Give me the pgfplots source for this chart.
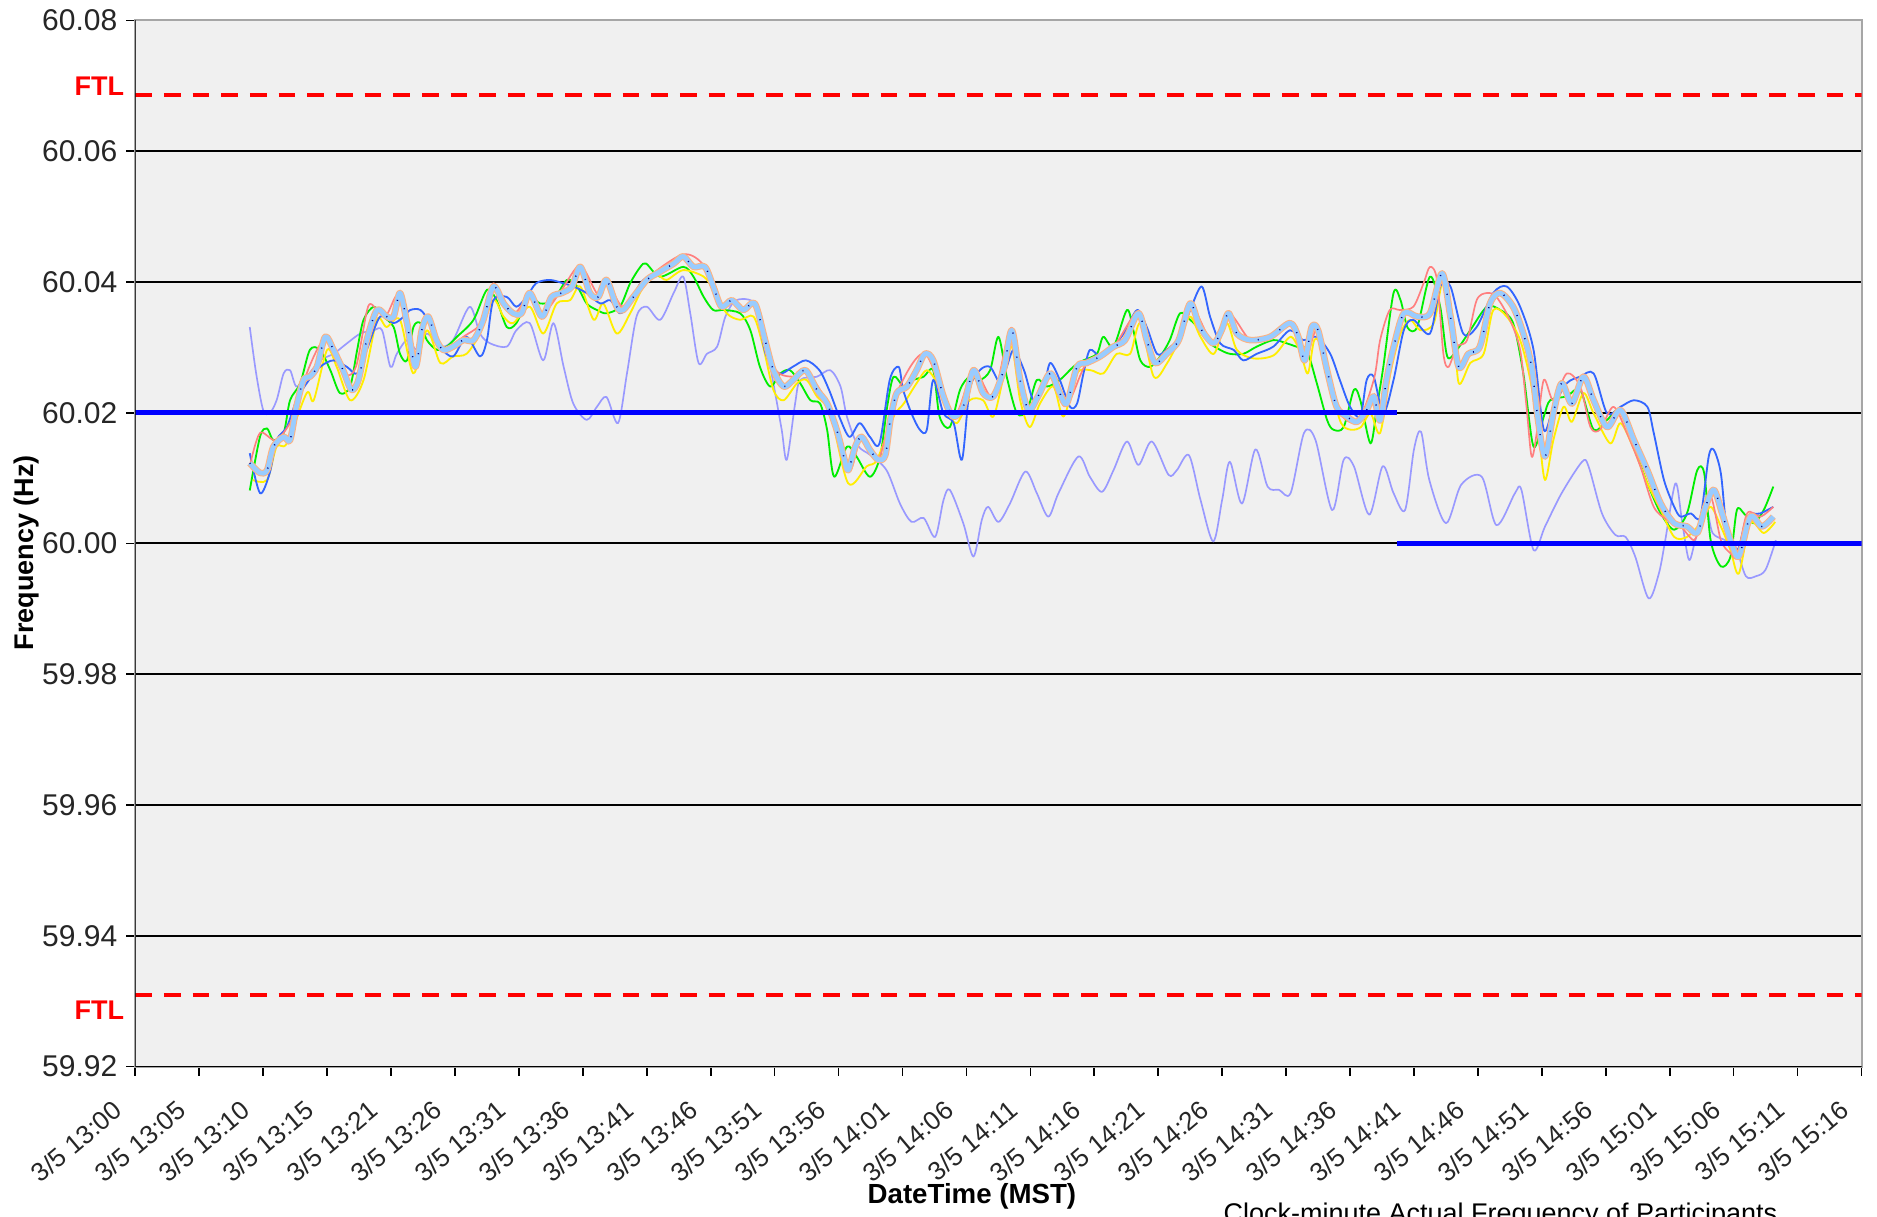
\documentclass[border=0pt]{standalone}
\usepackage{fontspec}
\setmainfont{Liberation Sans}
\usepackage{pgfplots}
\pgfplotsset{compat=1.18}
\usepackage{pgfplotstable}
\usetikzlibrary{calc}

\definecolor{plotbg}{HTML}{F0F0F0}
\definecolor{cLightBlue}{HTML}{99CCFF}
\definecolor{cPeach}{HTML}{FFB27F}
\definecolor{cGreen}{HTML}{00EE00}
\definecolor{cYellow}{HTML}{FFEE00}
\definecolor{cRoyal}{HTML}{3366FF}
\definecolor{cSalmon}{HTML}{FF7F7F}
\definecolor{cLav}{HTML}{9999FF}
\definecolor{cNavy}{HTML}{000080}
\definecolor{cRefBlue}{HTML}{0000FF}
\definecolor{cFTL}{HTML}{FF0000}

% x = position in tick steps (0 = 3/5 13:00, 27 = 3/5 15:16), y = Hz
\pgfplotstableread{
x y
1.79 60.0123
1.95 60.0108
2.06 60.0112
2.16 60.0148
2.32 60.0163
2.42 60.0158
2.52 60.0209
2.63 60.0250
2.73 60.0255
2.84 60.0270
2.97 60.0316
3.10 60.0296
3.25 60.0265
3.38 60.0235
3.49 60.0250
3.62 60.0311
3.78 60.0357
3.93 60.0347
4.04 60.0347
4.14 60.0383
4.25 60.0337
4.38 60.0270
4.48 60.0326
4.58 60.0347
4.71 60.0311
4.82 60.0296
4.97 60.0301
5.13 60.0311
5.29 60.0311
5.44 60.0341
5.60 60.0393
5.76 60.0367
5.91 60.0352
6.04 60.0352
6.17 60.0383
6.36 60.0347
6.51 60.0377
6.67 60.0383
6.83 60.0393
6.96 60.0423
7.11 60.0383
7.24 60.0377
7.37 60.0403
7.53 60.0362
7.63 60.0357
7.79 60.0377
8.00 60.0403
8.16 60.0413
8.42 60.0428
8.57 60.0439
8.73 60.0423
8.91 60.0423
9.04 60.0393
9.17 60.0362
9.33 60.0372
9.51 60.0357
9.69 60.0367
9.85 60.0311
9.98 60.0265
10.14 60.0240
10.29 60.0250
10.48 60.0265
10.66 60.0235
10.82 60.0214
10.97 60.0174
11.08 60.0133
11.15 60.0112
11.26 60.0148
11.36 60.0163
11.49 60.0143
11.62 60.0128
11.73 60.0135
11.81 60.0189
11.91 60.0230
12.07 60.0240
12.22 60.0265
12.35 60.0290
12.48 60.0280
12.64 60.0225
12.79 60.0194
12.95 60.0209
13.11 60.0265
13.26 60.0230
13.42 60.0225
13.58 60.0265
13.71 60.0326
13.84 60.0250
13.97 60.0204
14.12 60.0225
14.31 60.0260
14.46 60.0230
14.57 60.0214
14.73 60.0270
14.88 60.0276
15.09 60.0286
15.30 60.0301
15.48 60.0311
15.69 60.0352
15.82 60.0311
15.95 60.0276
16.13 60.0290
16.32 60.0311
16.50 60.0367
16.65 60.0331
16.86 60.0306
16.99 60.0326
17.10 60.0352
17.23 60.0321
17.44 60.0311
17.75 60.0316
18.06 60.0337
18.19 60.0316
18.29 60.0280
18.40 60.0331
18.50 60.0326
18.64 60.0265
18.79 60.0209
18.95 60.0194
19.11 60.0186
19.26 60.0204
19.37 60.0225
19.47 60.0188
19.57 60.0250
19.68 60.0300
19.84 60.0352
20.05 60.0347
20.25 60.0352
20.44 60.0413
20.57 60.0347
20.70 60.0270
20.85 60.0290
21.03 60.0301
21.19 60.0367
21.35 60.0383
21.55 60.0362
21.71 60.0321
21.84 60.0270
21.94 60.0189
22.05 60.0133
22.18 60.0199
22.31 60.0245
22.47 60.0214
22.65 60.0255
22.81 60.0219
23.02 60.0178
23.23 60.0204
23.44 60.0158
23.65 60.0112
23.86 60.0061
24.07 60.0031
24.27 60.0026
24.43 60.0016
24.56 60.0056
24.69 60.0082
24.82 60.0046
24.95 60.0005
25.08 59.9980
25.26 60.0041
25.44 60.0026
25.62 60.0041
}\mainT

\pgfplotstableread{
x y
1.79 60.0081
1.95 60.0163
2.06 60.0176
2.16 60.0158
2.32 60.0169
2.42 60.0219
2.58 60.0245
2.73 60.0296
2.89 60.0296
3.05 60.0265
3.20 60.0230
3.36 60.0240
3.47 60.0296
3.57 60.0342
3.73 60.0362
3.88 60.0347
4.04 60.0331
4.14 60.0290
4.25 60.0280
4.35 60.0331
4.46 60.0337
4.56 60.0311
4.72 60.0296
4.87 60.0301
5.03 60.0316
5.29 60.0342
5.50 60.0388
5.65 60.0372
5.81 60.0331
5.96 60.0337
6.17 60.0377
6.33 60.0367
6.54 60.0372
6.75 60.0403
6.91 60.0393
7.06 60.0367
7.22 60.0357
7.37 60.0352
7.58 60.0362
7.74 60.0398
7.90 60.0423
7.99 60.0428
8.21 60.0408
8.57 60.0423
8.73 60.0408
8.89 60.0377
9.04 60.0357
9.20 60.0357
9.46 60.0352
9.62 60.0326
9.77 60.0270
9.93 60.0240
10.09 60.0260
10.24 60.0265
10.40 60.0245
10.56 60.0219
10.71 60.0214
10.82 60.0174
10.93 60.0102
11.13 60.0148
11.28 60.0133
11.49 60.0102
11.65 60.0133
11.76 60.0209
11.86 60.0255
12.02 60.0240
12.17 60.0250
12.33 60.0255
12.48 60.0265
12.58 60.0194
12.74 60.0178
12.90 60.0235
13.05 60.0255
13.21 60.0250
13.37 60.0265
13.50 60.0316
13.63 60.0255
13.79 60.0199
13.95 60.0204
14.10 60.0250
14.26 60.0240
14.46 60.0250
14.67 60.0270
14.83 60.0280
15.04 60.0290
15.14 60.0316
15.30 60.0301
15.51 60.0357
15.61 60.0326
15.72 60.0280
15.87 60.0270
16.03 60.0286
16.18 60.0311
16.34 60.0352
16.50 60.0342
16.66 60.0326
16.81 60.0306
16.97 60.0296
17.12 60.0290
17.33 60.0290
17.54 60.0301
17.80 60.0311
18.01 60.0306
18.16 60.0301
18.32 60.0296
18.48 60.0245
18.64 60.0189
18.74 60.0174
18.90 60.0178
19.06 60.0235
19.16 60.0219
19.32 60.0153
19.42 60.0209
19.52 60.0270
19.68 60.0383
19.79 60.0372
19.90 60.0330
20.05 60.0331
20.25 60.0408
20.41 60.0362
20.52 60.0286
20.67 60.0296
20.88 60.0326
21.14 60.0362
21.35 60.0357
21.55 60.0337
21.71 60.0260
21.87 60.0148
22.03 60.0194
22.13 60.0219
22.39 60.0225
22.60 60.0235
22.81 60.0174
23.02 60.0189
23.23 60.0204
23.44 60.0148
23.65 60.0092
23.86 60.0046
24.07 60.0021
24.27 60.0046
24.43 60.0112
24.54 60.0107
24.64 60.0005
24.80 59.9965
24.95 59.9980
25.05 60.0051
25.16 60.0046
25.31 60.0031
25.47 60.0051
25.62 60.0087
}\greenT

\pgfplotstableread{
x y
1.84 60.0097
2.06 60.0097
2.21 60.0148
2.37 60.0153
2.68 60.0230
2.79 60.0219
3.00 60.0296
3.15 60.0270
3.36 60.0219
3.57 60.0250
3.78 60.0342
3.93 60.0331
4.14 60.0342
4.35 60.0260
4.56 60.0326
4.77 60.0276
4.97 60.0286
5.18 60.0290
5.39 60.0321
5.60 60.0372
5.76 60.0347
5.91 60.0337
6.17 60.0362
6.38 60.0321
6.59 60.0367
6.80 60.0372
6.96 60.0393
7.17 60.0342
7.32 60.0367
7.53 60.0321
7.74 60.0352
7.95 60.0393
8.16 60.0410
8.31 60.0403
8.57 60.0418
8.89 60.0408
9.04 60.0388
9.25 60.0352
9.46 60.0342
9.67 60.0347
9.82 60.0301
9.98 60.0235
10.14 60.0219
10.35 60.0245
10.50 60.0250
10.66 60.0225
10.87 60.0199
11.15 60.0092
11.44 60.0118
11.60 60.0128
11.86 60.0194
12.02 60.0214
12.22 60.0245
12.38 60.0265
12.54 60.0245
12.69 60.0204
12.85 60.0184
13.05 60.0219
13.26 60.0219
13.42 60.0194
13.58 60.0255
13.71 60.0301
13.84 60.0219
13.99 60.0178
14.15 60.0214
14.36 60.0240
14.52 60.0194
14.73 60.0260
14.94 60.0265
15.14 60.0260
15.35 60.0290
15.56 60.0290
15.72 60.0337
15.93 60.0255
16.14 60.0276
16.35 60.0316
16.50 60.0347
16.66 60.0316
16.87 60.0290
17.07 60.0337
17.23 60.0296
17.49 60.0283
17.81 60.0288
18.07 60.0316
18.23 60.0290
18.34 60.0260
18.44 60.0311
18.55 60.0301
18.71 60.0235
18.86 60.0184
19.01 60.0174
19.17 60.0178
19.32 60.0199
19.47 60.0169
19.63 60.0260
19.79 60.0321
19.94 60.0342
20.10 60.0326
20.31 60.0337
20.46 60.0403
20.62 60.0337
20.70 60.0245
20.88 60.0276
21.09 60.0290
21.24 60.0357
21.45 60.0347
21.66 60.0311
21.82 60.0250
21.95 60.0169
22.05 60.0097
22.18 60.0158
22.34 60.0209
22.47 60.0186
22.65 60.0230
22.81 60.0199
23.07 60.0153
23.23 60.0184
23.44 60.0144
23.65 60.0092
23.86 60.0051
24.07 60.0010
24.27 60.0010
24.48 60.0031
24.64 60.0056
24.80 60.0026
24.95 59.9990
25.08 59.9954
25.26 60.0031
25.47 60.0016
25.65 60.0033
}\yellowT

\pgfplotstableread{
x y
1.79 60.0138
1.95 60.0077
2.10 60.0107
2.21 60.0158
2.37 60.0178
2.52 60.0219
2.68 60.0245
2.89 60.0270
3.10 60.0280
3.31 60.0270
3.47 60.0260
3.62 60.0296
3.83 60.0347
4.04 60.0337
4.20 60.0347
4.30 60.0357
4.46 60.0357
4.61 60.0337
4.77 60.0301
4.97 60.0286
5.18 60.0316
5.39 60.0286
5.50 60.0311
5.60 60.0372
5.81 60.0377
5.96 60.0362
6.12 60.0377
6.27 60.0398
6.48 60.0403
6.69 60.0398
6.85 60.0393
7.06 60.0383
7.27 60.0367
7.43 60.0372
7.58 60.0352
7.74 60.0367
7.90 60.0398
8.10 60.0413
8.42 60.0428
8.57 60.0439
8.73 60.0423
8.91 60.0420
9.04 60.0390
9.17 60.0360
9.33 60.0370
9.51 60.0357
9.69 60.0367
9.86 60.0290
10.07 60.0260
10.28 60.0270
10.49 60.0280
10.70 60.0265
10.85 60.0235
11.01 60.0194
11.17 60.0163
11.33 60.0184
11.49 60.0163
11.64 60.0153
11.80 60.0250
11.94 60.0270
12.01 60.0235
12.14 60.0199
12.27 60.0174
12.38 60.0174
12.48 60.0250
12.64 60.0199
12.80 60.0184
12.93 60.0128
13.05 60.0235
13.21 60.0265
13.37 60.0270
13.53 60.0245
13.63 60.0270
13.74 60.0296
13.90 60.0265
14.05 60.0219
14.21 60.0240
14.31 60.0276
14.46 60.0250
14.62 60.0209
14.73 60.0214
14.83 60.0260
14.93 60.0296
15.09 60.0286
15.25 60.0296
15.46 60.0321
15.67 60.0357
15.82 60.0331
15.98 60.0290
16.13 60.0296
16.34 60.0316
16.50 60.0357
16.68 60.0393
16.81 60.0347
16.97 60.0306
17.18 60.0296
17.33 60.0280
17.54 60.0290
17.80 60.0301
18.06 60.0326
18.27 60.0311
18.48 60.0316
18.69 60.0290
18.84 60.0250
19.00 60.0209
19.16 60.0194
19.26 60.0250
19.37 60.0255
19.52 60.0199
19.68 60.0250
19.84 60.0326
19.99 60.0342
20.25 60.0321
20.41 60.0393
20.57 60.0393
20.77 60.0321
20.98 60.0331
21.24 60.0383
21.45 60.0393
21.66 60.0362
21.87 60.0296
22.03 60.0174
22.18 60.0209
22.39 60.0245
22.60 60.0255
22.81 60.0260
23.02 60.0199
23.23 60.0209
23.44 60.0219
23.65 60.0209
23.75 60.0169
23.91 60.0097
24.07 60.0056
24.17 60.0041
24.33 60.0046
24.48 60.0041
24.61 60.0133
24.69 60.0143
24.80 60.0107
24.90 60.0016
25.06 59.9990
25.21 60.0041
25.42 60.0046
25.62 60.0056
}\blueT

\pgfplotstableread{
x y
1.79 60.0118
1.95 60.0169
2.21 60.0158
2.50 60.0199
2.70 60.0265
2.97 60.0311
3.25 60.0260
3.45 60.0270
3.64 60.0362
3.78 60.0357
3.93 60.0350
4.14 60.0380
4.38 60.0280
4.58 60.0347
4.82 60.0296
5.13 60.0316
5.44 60.0340
5.60 60.0398
5.91 60.0352
6.17 60.0380
6.36 60.0350
6.67 60.0388
6.96 60.0425
7.24 60.0380
7.37 60.0405
7.63 60.0362
8.00 60.0405
8.57 60.0442
8.91 60.0423
9.17 60.0362
9.33 60.0372
9.51 60.0357
9.69 60.0367
9.98 60.0270
10.29 60.0255
10.48 60.0265
10.82 60.0214
11.15 60.0110
11.36 60.0163
11.62 60.0128
11.91 60.0230
12.35 60.0290
12.79 60.0194
13.11 60.0265
13.42 60.0225
13.71 60.0330
13.97 60.0204
14.31 60.0260
14.57 60.0214
14.88 60.0276
15.30 60.0301
15.69 60.0352
15.95 60.0276
16.32 60.0311
16.50 60.0367
16.86 60.0306
17.10 60.0352
17.44 60.0311
17.75 60.0316
18.06 60.0337
18.29 60.0280
18.50 60.0326
18.79 60.0209
19.11 60.0186
19.37 60.0250
19.47 60.0311
19.62 60.0357
19.78 60.0357
19.99 60.0362
20.15 60.0398
20.25 60.0423
20.36 60.0403
20.46 60.0290
20.54 60.0270
20.67 60.0301
20.83 60.0311
20.98 60.0372
21.14 60.0383
21.29 60.0377
21.50 60.0342
21.66 60.0296
21.76 60.0209
21.84 60.0133
21.92 60.0169
22.03 60.0250
22.18 60.0219
22.39 60.0260
22.60 60.0240
22.76 60.0178
22.91 60.0174
23.12 60.0209
23.33 60.0169
23.54 60.0118
23.75 60.0056
23.96 60.0036
24.17 60.0026
24.38 60.0005
24.48 60.0031
24.64 60.0072
24.80 60.0005
24.95 59.9985
25.06 59.9980
25.21 60.0046
25.42 60.0041
25.62 60.0056
}\redT

\pgfplotstableread{
x y
1.79 60.0331
1.89 60.0260
2.00 60.0204
2.10 60.0199
2.21 60.0219
2.32 60.0260
2.42 60.0265
2.52 60.0240
2.68 60.0255
2.89 60.0280
3.10 60.0290
3.31 60.0306
3.52 60.0321
3.73 60.0326
3.86 60.0326
3.99 60.0270
4.09 60.0290
4.25 60.0311
4.41 60.0296
4.56 60.0321
4.77 60.0301
4.97 60.0311
5.23 60.0362
5.39 60.0321
5.55 60.0306
5.81 60.0301
5.96 60.0326
6.17 60.0337
6.38 60.0280
6.54 60.0337
6.70 60.0270
6.85 60.0214
7.06 60.0189
7.22 60.0209
7.37 60.0224
7.55 60.0184
7.69 60.0260
7.84 60.0347
8.00 60.0362
8.21 60.0342
8.42 60.0383
8.57 60.0408
8.68 60.0352
8.81 60.0276
8.94 60.0290
9.10 60.0301
9.23 60.0347
9.40 60.0372
9.69 60.0367
9.85 60.0311
9.98 60.0245
10.11 60.0174
10.19 60.0128
10.32 60.0214
10.40 60.0250
10.66 60.0255
10.87 60.0265
11.03 60.0240
11.13 60.0194
11.30 60.0150
11.50 60.0135
11.75 60.0112
11.96 60.0061
12.14 60.0033
12.33 60.0039
12.51 60.0010
12.64 60.0066
12.74 60.0082
12.95 60.0031
13.11 59.9980
13.24 60.0036
13.34 60.0056
13.50 60.0033
13.68 60.0061
13.92 60.0110
14.10 60.0077
14.28 60.0041
14.44 60.0077
14.75 60.0133
14.93 60.0102
15.12 60.0079
15.30 60.0112
15.51 60.0156
15.69 60.0120
15.90 60.0156
16.16 60.0105
16.29 60.0112
16.48 60.0135
16.66 60.0067
16.86 60.0003
17.00 60.0067
17.12 60.0125
17.31 60.0061
17.52 60.0144
17.71 60.0087
17.89 60.0082
18.07 60.0077
18.28 60.0169
18.46 60.0158
18.72 60.0051
18.90 60.0128
19.06 60.0118
19.30 60.0044
19.51 60.0118
19.68 60.0077
19.86 60.0051
20.00 60.0144
20.11 60.0171
20.24 60.0097
20.50 60.0031
20.74 60.0090
21.06 60.0102
21.29 60.0028
21.58 60.0077
21.68 60.0082
21.87 59.9990
22.05 60.0026
22.31 60.0077
22.63 60.0125
22.73 60.0118
22.94 60.0046
23.15 60.0013
23.31 60.0010
23.46 59.9980
23.67 59.9916
23.83 59.9954
23.93 60.0005
24.09 60.0092
24.19 60.0036
24.30 59.9975
24.40 60.0005
24.56 60.0056
24.67 60.0016
24.87 60.0005
25.03 59.9995
25.19 59.9950
25.35 59.9950
25.50 59.9960
25.66 60.0005
}\lavT

\begin{document}
\begin{tikzpicture}[font=\fontsize{8.1}{9.7}\selectfont]
\begin{axis}[
  name=ax,
  scale only axis,
  width=517.9pt, height=313.9pt,
  xmin=0, xmax=27, ymin=59.92, ymax=60.08,
  axis background/.style={fill=plotbg},
  axis line style={draw=gray!70, line width=0.6pt},
  tick pos=left, tick align=outside,
  major tick length=2.7pt,
  tick style={black, line width=0.5pt},
  xtick={0,...,27},
  xticklabels={3/5 13:00,3/5 13:05,3/5 13:10,3/5 13:15,3/5 13:21,3/5 13:26,3/5 13:31,3/5 13:36,3/5 13:41,3/5 13:46,3/5 13:51,3/5 13:56,3/5 14:01,3/5 14:06,3/5 14:11,3/5 14:16,3/5 14:21,3/5 14:26,3/5 14:31,3/5 14:36,3/5 14:41,3/5 14:46,3/5 14:51,3/5 14:56,3/5 15:01,3/5 15:06,3/5 15:11,3/5 15:16},
  xticklabel style={xshift=-7pt, yshift=-6.8pt, rotate=40, anchor=north east, inner sep=0pt,
    text=black!85, font=\fontsize{7.8}{9.3}\selectfont},
  ytick={59.92,59.94,59.96,59.98,60.00,60.02,60.04,60.06,60.08},
  yticklabel style={/pgf/number format/fixed, /pgf/number format/fixed zerofill,
    /pgf/number format/precision=2, /pgf/number format/assume math mode=true,
    /tikz/text=black!85, /tikz/xshift=0.8pt, /tikz/font=\fontsize{9}{10.8}\selectfont},
  ymajorgrids, major grid style={black, line width=0.6pt},
  every axis plot/.append style={line join=round},
]
% slow outlier participant
\addplot[cLav, line width=0.5pt, smooth, tension=0.5] table {\lavT};
% individual participants
\addplot[cGreen, line width=0.55pt, smooth, tension=0.5] table {\greenT};
\addplot[cYellow, line width=0.55pt, smooth, tension=0.5] table {\yellowT};
\addplot[cRoyal, line width=0.55pt, smooth, tension=0.5] table {\blueT};
\addplot[cSalmon, line width=0.5pt, smooth, tension=0.5] table {\redT};
% bundle of the other participants
\addplot[cPeach, line width=2.0pt, smooth, tension=0.5] table {\mainT};
\addplot[cLightBlue, line width=1.4pt, smooth, tension=0.5] table {\mainT};
\addplot[cNavy, line width=0.45pt, dash pattern=on 0.3pt off 7pt, smooth, tension=0.5] table {\mainT};
% scheduled frequency
\addplot[cRefBlue, line width=1.6pt] coordinates {(0,60.02) (19.74,60.02)};
\addplot[cRefBlue, line width=1.6pt] coordinates {(19.74,60.00) (27,60.00)};
% frequency trigger limits
\addplot[cFTL, line width=1.3pt, dash pattern=on 5pt off 3.6pt] coordinates {(0,60.0686) (27,60.0686)};
\addplot[cFTL, line width=1.3pt, dash pattern=on 5pt off 3.6pt] coordinates {(0,59.9309) (27,59.9309)};
\draw[black, line width=0.6pt] (rel axis cs:0,1) -- (rel axis cs:0,0) -- (rel axis cs:1,0);
\end{axis}
\node[anchor=east, text=cFTL, font=\fontsize{8.1}{9.7}\selectfont\bfseries, inner sep=0pt]
  at ($(ax.south west)+(-3.2pt,294.1pt)$) {FTL};
\node[anchor=east, text=cFTL, font=\fontsize{8.1}{9.7}\selectfont\bfseries, inner sep=0pt]
  at ($(ax.south west)+(-3.2pt,16.9pt)$) {FTL};
\node[rotate=90, font=\fontsize{8.1}{9.7}\selectfont\bfseries, inner sep=0pt]
  at ($(ax.south west)+(-32.7pt,154.1pt)$) {Frequency (Hz)};
\node[font=\fontsize{8.3}{9.9}\selectfont\bfseries, inner sep=0pt]
  at ($(ax.south west)+(251pt,-39pt)$) {DateTime (MST)};
\node[anchor=north west, inner sep=0pt, font=\fontsize{8.1}{9.7}\selectfont]
  at ($(ax.south west)+(326.3pt,-40.8pt)$) {Clock-minute Actual Frequency of Participants};
\pgfresetboundingbox
\useasboundingbox ($(ax.south west)+(-40.6pt,-45.1pt)$) rectangle ($(ax.north east)+(4.65pt,6.1pt)$);
\end{tikzpicture}
\end{document}
